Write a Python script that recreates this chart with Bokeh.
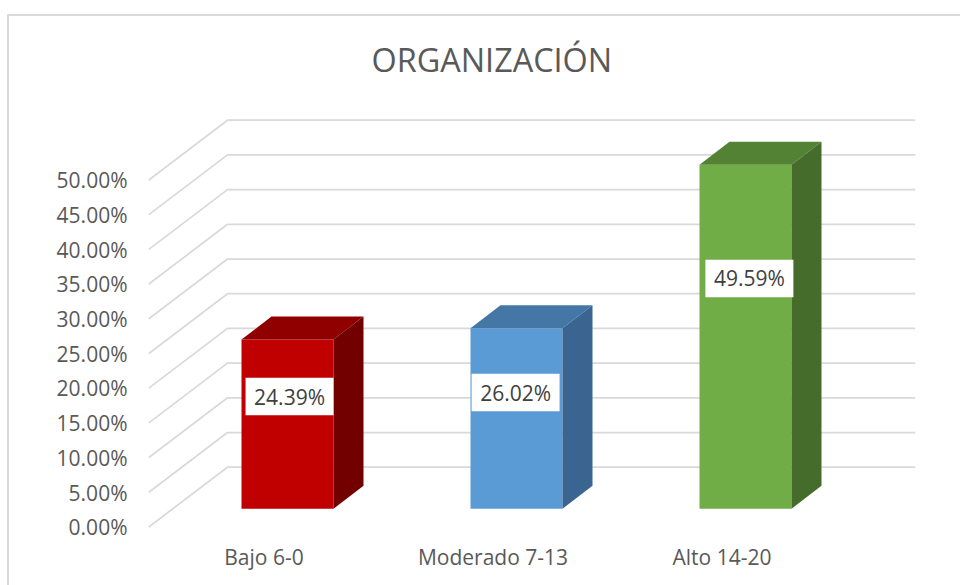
from bokeh.plotting import figure
from bokeh.embed import file_html
from bokeh.resources import INLINE
from bokeh.models import FixedTicker
from bokeh.core.properties import value

title = "ORGANIZACIÓN"
categories = ["Bajo 6-0", "Moderado 7-13", "Alto 14-20"]
values = [24.39, 26.02, 49.59]
labels = ["24.39%", "26.02%", "49.59%"]
label_heights = [18.83, 19.4, 35.84]
label_shift = [0.009, -0.004, 0.017]
front = ["#C00000", "#5B9BD5", "#70AD47"]
top = ["#900000", "#4476A6", "#548235"]
side = ["#730000", "#3A6591", "#466C2B"]
ticks = [0, 5, 10, 15, 20, 25, 30, 35, 40, 45, 50]
tick_labels = ["0.00%", "5.00%", "10.00%", "15.00%", "20.00%", "25.00%", "30.00%", "35.00%", "40.00%", "45.00%", "50.00%"]

# scale: 229 px per category, 6.94 px per percentage point
PX_X, PX_Y = 229.0, 6.94
F_L, F_R, F_T, F_B = 148, 915, 90, 535   # frame box on the page
W, H = 961, 585
x0_px, y0_px = 263.5, 526.7
bar_offset = 23.5 / PX_X   # the bars stand in front of the slanted floor, right of their labels

xr = ((F_L - x0_px) / PX_X, (F_R - x0_px) / PX_X)
yr = ((y0_px - F_B) / PX_Y, (y0_px - F_T) / PX_Y)

p = figure(width=W, height=H, x_range=xr, y_range=yr, output_backend="svg", toolbar_location=None,
           min_border_left=F_L, min_border_right=W - F_R, min_border_top=F_T,
           min_border_bottom=H - F_B, tools="", outline_line_color=None,
           border_fill_color=None, background_fill_color=None)
p.styles = {
    "background-image": "linear-gradient(#D9D9D9,#D9D9D9),linear-gradient(#D9D9D9,#D9D9D9)",
    "background-size": "2px 571px,953px 2px",
    "background-position": "7px 14px,7px 14px",
    "background-repeat": "no-repeat",
}
p.xgrid.visible = False
p.ygrid.visible = False

# 3D wall grid
wall_dx, wall_dy = 79 / PX_X, 60 / PX_Y
for t in ticks:
    p.line([xr[0], xr[0] + wall_dx, xr[1]], [t, t + wall_dy, t + wall_dy], line_color="#D9D9D9", line_width=1.75)

# bars
half, depth_x, depth_y, base = 46 / PX_X, 30 / PX_X, 23 / PX_Y, 18.4 / PX_Y
for i, v in enumerate(values):
    c = i + bar_offset
    l, r, b, t = c - half, c + half, base, base + v
    p.quad(left=l, right=r, bottom=b, top=t, fill_color=front[i], line_color=None)
    p.patch([l, l + depth_x, r + depth_x, r], [t, t + depth_y, t + depth_y, t], fill_color=top[i], line_color=None)
    p.patch([r, r + depth_x, r + depth_x, r], [b, b + depth_y, t + depth_y, t], fill_color=side[i], line_color=None)

xs = [i + bar_offset + s for i, s in enumerate(label_shift)]
p.rect(x=xs, y=label_heights, width=88, height=37.5, width_units="screen", height_units="screen",
       fill_color="white", line_color=None)
p.text(x=xs, y=label_heights, text=labels, text_font=value("Open Sans"), text_font_size="21px",
       text_color="#404040", text_align="center", text_baseline="middle")

# axes
p.yaxis.ticker = FixedTicker(ticks=ticks)
p.yaxis.major_label_overrides = dict(zip(ticks, tick_labels))
p.yaxis.axis_line_color = None
p.yaxis.major_tick_line_color = None
p.yaxis.minor_tick_line_color = None
p.yaxis.major_label_standoff = 15
p.yaxis.major_label_text_font = "Open Sans"
p.yaxis.major_label_text_font_size = "21px"
p.yaxis.major_label_text_color = "#595959"

p.xaxis.ticker = FixedTicker(ticks=[0, 1, 2])
p.xaxis.major_label_overrides = dict(enumerate(categories))
p.xaxis.axis_line_color = None
p.xaxis.major_tick_line_color = None
p.xaxis.minor_tick_line_color = None
p.xaxis.major_label_standoff = 1
p.xaxis.major_label_text_font = "Open Sans"
p.xaxis.major_label_text_font_size = "21px"
p.xaxis.major_label_text_color = "#595959"

p.title.text = title
p.title.align = "left"
p.title.offset = 223
p.title.standoff = 20
p.title.text_font = "Open Sans"
p.title.text_font_style = "normal"
p.title.text_font_size = "32.4px"
p.title.text_color = "#595959"

open("out.html", "w").write(file_html(p, INLINE))
